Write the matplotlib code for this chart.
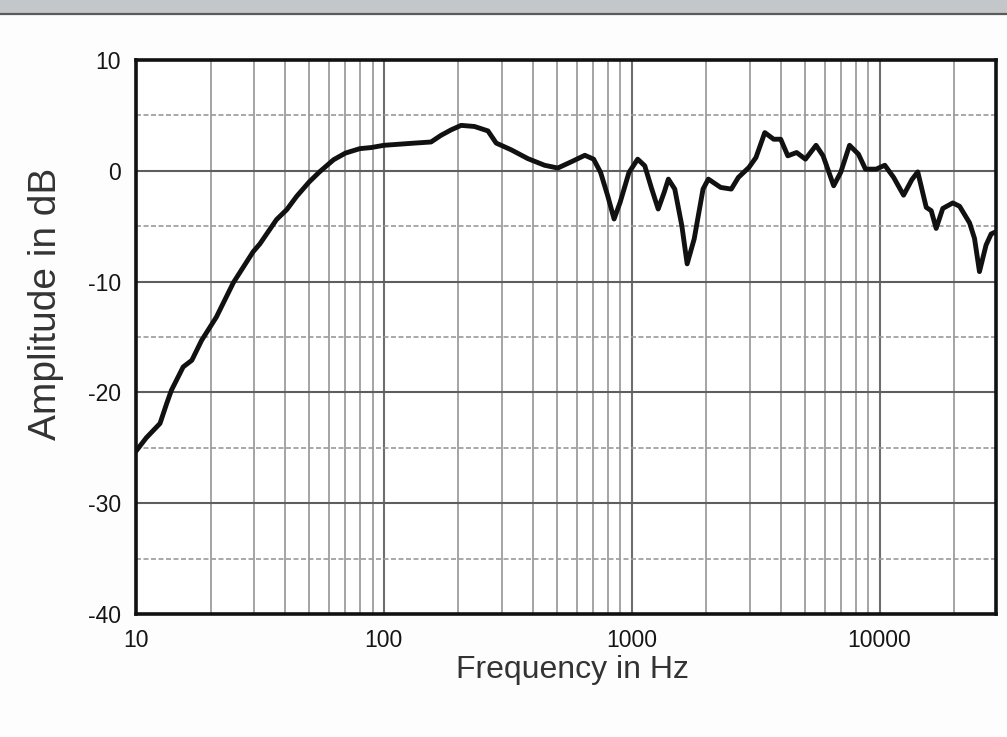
import matplotlib
matplotlib.use("Agg")
import matplotlib.pyplot as plt
from matplotlib.ticker import FixedLocator, NullFormatter

# ---- data ----
freq_hz = [10, 11, 12.5, 13.3, 13.9, 15.5, 16.8, 18.4, 21.1, 24.7, 29.7, 31.6,
           36.9, 40.6, 44.5, 50, 55, 62.7, 70, 80, 89, 100, 133, 155, 170, 187,
           205, 232, 263, 284, 326, 381, 445, 503, 569, 647, 702, 749, 800, 849,
           898, 975, 1057, 1129, 1205, 1279, 1352, 1406, 1492, 1593, 1674, 1787,
           1940, 2038, 2285, 2522, 2693, 2970, 3172, 3443, 3739, 3992, 4265,
           4627, 5023, 5543, 5918, 6530, 6970, 7566, 8219, 8776, 9685, 10500,
           11400, 12500, 13500, 14260, 15430, 16160, 16920, 17990, 19750, 21030,
           23080, 24160, 25300, 26900, 28200, 29500]
amplitude_db = [-25.3, -24.1, -22.8, -21.0, -19.8, -17.7, -17.1, -15.3, -13.2,
                -10.1, -7.3, -6.6, -4.4, -3.5, -2.3, -1.0, -0.1, 1.0, 1.6, 2.0,
                2.1, 2.3, 2.5, 2.6, 3.2, 3.7, 4.1, 4.0, 3.6, 2.5, 1.9, 1.1, 0.5,
                0.25, 0.8, 1.4, 1.05, -0.15, -2.25, -4.35, -2.85, -0.15, 1.05,
                0.45, -1.65, -3.45, -1.95, -0.75, -1.65, -4.95, -8.4, -6.15,
                -1.65, -0.75, -1.5, -1.65, -0.6, 0.3, 1.2, 3.45, 2.85, 2.85,
                1.35, 1.65, 1.05, 2.3, 1.35, -1.35, -0.15, 2.3, 1.5, 0.15, 0.15,
                0.5, -0.6, -2.2, -0.8, -0.1, -3.3, -3.6, -5.2, -3.4, -2.9, -3.2,
                -4.7, -6.1, -9.1, -6.7, -5.7, -5.5]
x_ticks = [10, 100, 1000, 10000]
x_tick_labels = ["10", "100", "1000", "10000"]
y_ticks = [10, 0, -10, -20, -30, -40]
y_tick_labels = ["10", "0", "-10", "-20", "-30", "-40"]
x_label = "Frequency in Hz"
y_label = "Amplitude in dB"

plt.rcParams["font.family"] = ["Liberation Sans", "DejaVu Sans"]

W, H = 1007, 737
fig = plt.figure(figsize=(W / 100, H / 100), dpi=100, facecolor="#fdfdfd")

# header band
fig.patches.append(plt.Rectangle((0, 1 - 13 / H), 1, 13 / H, transform=fig.transFigure,
                                 facecolor="#c4c7ca", edgecolor="none", zorder=0))
fig.lines.append(plt.Line2D([0, 1], [1 - 14 / H, 1 - 14 / H], transform=fig.transFigure,
                            color="#5a5a5a", lw=1.6))

left, right, top, bottom = 136, 996, 60, 614
ax = fig.add_axes([left / W, 1 - bottom / H, (right - left) / W, (bottom - top) / H])
ax.set_facecolor("white")
ax.set_xscale("log")
ax.set_xlim(10, 29500)
ax.set_ylim(-40, 10)

# grid
minor_x = [m * 10 ** d for d in range(1, 5) for m in range(2, 10) if m * 10 ** d < 29500]
for xv in minor_x:
    ax.axvline(xv, color="#8c8c8c", lw=1.1, zorder=1)
for xv in [100, 1000, 10000]:
    ax.axvline(xv, color="#6e6e6e", lw=1.5, zorder=1)
for yv in [0, -10, -20, -30]:
    ax.axhline(yv, color="#5e5e5e", lw=1.5, zorder=1)
for yv in [5, -5, -15, -25, -35]:
    ax.axhline(yv, color="#9a9a9a", lw=1.2, ls=(0, (3, 1.5)), zorder=1)

ax.plot(freq_hz, amplitude_db, color="#111111", lw=3.5, solid_joinstyle="round",
        solid_capstyle="round", zorder=3)

ax.xaxis.set_major_locator(FixedLocator(x_ticks))
ax.xaxis.set_minor_formatter(NullFormatter())
ax.xaxis.set_minor_locator(FixedLocator([]))
ax.set_xticklabels(x_tick_labels)
ax.set_yticks(y_ticks)
ax.set_yticklabels(y_tick_labels)
ax.tick_params(axis="both", length=0, labelsize=16.5, colors="#151515")
ax.tick_params(axis="x", pad=11)
ax.tick_params(axis="y", pad=11)

for s in ax.spines.values():
    s.set_linewidth(2.6)
    s.set_color("#111111")

fig.text(573 / W, 1 - 670 / H, x_label, ha="center", va="center", fontsize=23, color="#333333")
fig.text(46 / W, 1 - 304 / H, y_label, ha="center", va="center", rotation=90,
         fontsize=28, color="#333333")

fig.savefig("out.png", dpi=100, facecolor=fig.get_facecolor())
